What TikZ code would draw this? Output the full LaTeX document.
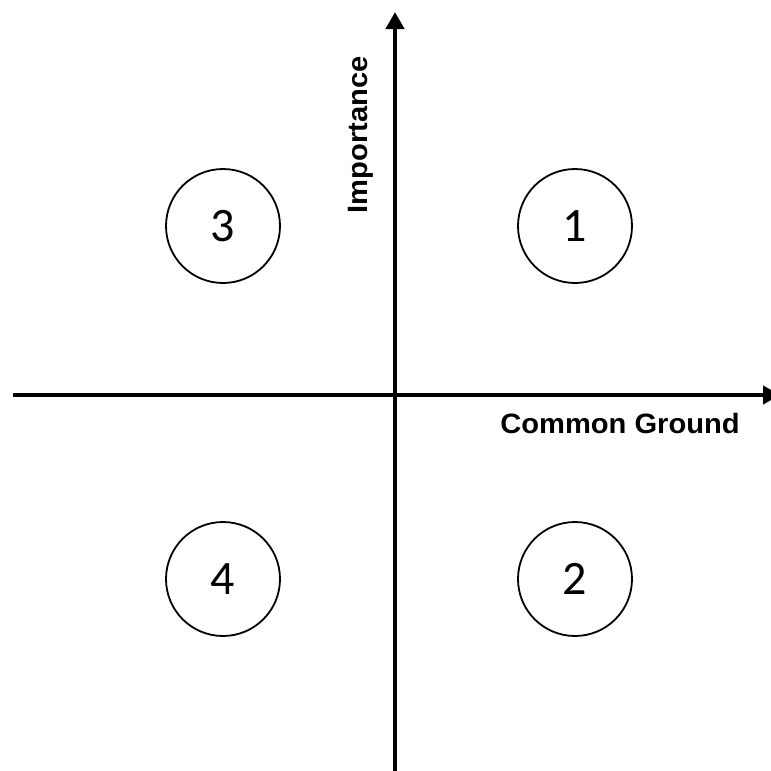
\documentclass[tikz,border=0pt]{standalone}
\usepackage{fontspec}
\setmainfont{Liberation Sans}
\newfontfamily\digitfont{Carlito}
\usetikzlibrary{arrows.meta}
\tikzset{
  axis/.style={line width=4.2pt, -{Triangle[length=17pt,width=18pt]}},
  quad/.style={circle, draw, line width=1.8pt, minimum size=114pt, inner sep=0pt,
               font=\digitfont\fontsize{48}{48}\selectfont},
  axislabel/.style={font=\bfseries\fontsize{28}{28}\selectfont, inner sep=0pt, anchor=base}
}
\begin{document}
\begin{tikzpicture}[x=1pt,y=-1pt]
  \useasboundingbox (0,0) rectangle (771,771);
  \clip (0,0) rectangle (771,771);
  % axes
  \coordinate (xs) at (13,395);
  \coordinate (xe) at (780,395);
  \coordinate (ys) at (395,771);
  \coordinate (ye) at (395,12);
  \draw[axis] (xs) -- (xe);
  \draw[axis] (ys) -- (ye);
  % axis labels
  \node[axislabel] (cg) at (620,433) {\scalebox{1.04}[1]{Common Ground}};
  \node[axislabel, rotate=90] (imp) at (367,135) {\scalebox{1.04}[1]{Importance}};
  % quadrants
  \node[quad] (q1) at (575,226) {1};
  \node[quad] (q2) at (575,579) {2};
  \node[quad] (q3) at (223,226) {3};
  \node[quad] (q4) at (223,579) {4};
\end{tikzpicture}
\end{document}
